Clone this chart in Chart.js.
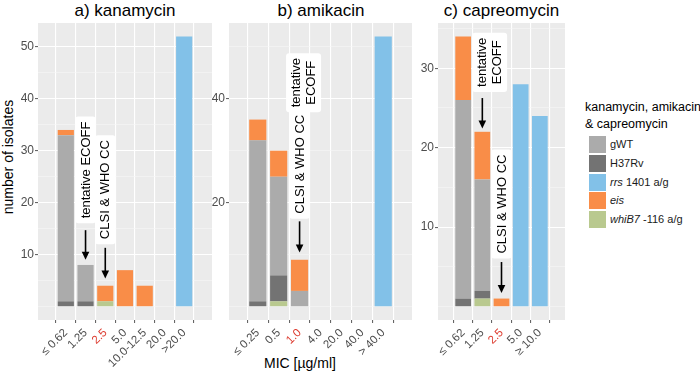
<!DOCTYPE html>
<html>
<head>
<meta charset="utf-8">
<script src="https://cdn.jsdelivr.net/npm/chart.js@4.4.1/dist/chart.umd.min.js"></script>
<style>
  body { margin: 0; width: 700px; height: 380px; background: #fff; position: relative; overflow: hidden;
         font-family: "Liberation Sans", Arial, sans-serif; color: #000; }
  canvas { position: absolute; top: 0; }
  .ptitle { position: absolute; top: 1px; font-size: 17px; line-height: 20px; text-align: center; white-space: nowrap; }
  #ytitle { position: absolute; left: 8px; top: 157px; font-size: 14px; white-space: nowrap;
            transform: translate(-50%, -50%) rotate(-90deg); }
  #xtitle { position: absolute; left: 300px; top: 363px; font-size: 14px; white-space: nowrap;
            transform: translate(-50%, -50%); }
  #legtitle { position: absolute; left: 585px; top: 99px; font-size: 12.5px; line-height: 17px; white-space: nowrap; }
  .li { position: absolute; left: 589px; height: 17px; font-size: 11px; line-height: 17px; white-space: nowrap; color: #1a1a1a; }
  .sw { display: inline-block; width: 17px; height: 17px; vertical-align: top; margin-right: 4px; }
</style>
</head>
<body>
<div class="ptitle" style="left:38px;width:174px">a) kanamycin</div>
<div class="ptitle" style="left:229px;width:184px">b) amikacin</div>
<div class="ptitle" style="left:438px;width:127px">c) capreomycin</div>
<div id="ytitle">number of isolates</div>
<div id="xtitle">MIC [µg/ml]</div>
<div id="legtitle">kanamycin, amikacin<br>&amp; capreomycin</div>
<div id="legend"></div>

<canvas id="chartA" width="220" height="380" style="left:0px"></canvas>
<canvas id="chartB" width="222" height="380" style="left:199px"></canvas>
<canvas id="chartC" width="160" height="380" style="left:410px"></canvas>

<script>
// series, stacked bottom to top
const seriesNames = ["whiB7 -116 a/g", "H37Rv", "gWT", "eis", "rrs 1401 a/g"];
const seriesLegend = ["<i>whiB7</i> -116 a/g", "H37Rv", "gWT", "<i>eis</i>", "<i>rrs</i> 1401 a/g"];
const seriesColors = ["#b9c98f", "#737373", "#ababab", "#f98d48", "#82c1e8"];
const legendOrder = [2, 1, 4, 3, 0];

// a) kanamycin
const kanaLabels = ["≤ 0.62", "1.25", "2.5", "5.0", "10.0-12.5", "20.0", ">20.0"];
const kanaWhiB7 = [0, 0, 1, 0, 0, 0, 0];
const kanaH37Rv = [1, 1, 0, 0, 0, 0, 0];
const kanaGWT   = [32, 7, 0, 0, 0, 0, 0];
const kanaEis   = [1, 0, 3, 7, 4, 0, 0];
const kanaRrs   = [0, 0, 0, 0, 0, 0, 52];
const kanaTicks = [10, 20, 30, 40, 50];

// b) amikacin
const amiLabels = ["≤ 0.25", "0.5", "1.0", "4.0", "20.0", "40.0", "> 40.0"];
const amiWhiB7 = [0, 1, 0, 0, 0, 0, 0];
const amiH37Rv = [1, 5, 0, 0, 0, 0, 0];
const amiGWT   = [31, 19, 3, 0, 0, 0, 0];
const amiEis   = [4, 5, 6, 0, 0, 0, 0];
const amiRrs   = [0, 0, 0, 0, 0, 0, 52];
const amiTicks = [20, 40];

// c) capreomycin
const capLabels = ["≤ 0.62", "1.25", "2.5", "5.0", "≥ 10.0"];
const capWhiB7 = [0, 1, 0, 0, 0];
const capH37Rv = [1, 1, 0, 0, 0];
const capGWT   = [25, 14, 0, 0, 0];
const capEis   = [8, 6, 1, 0, 0];
const capRrs   = [0, 0, 0, 28, 24];
const capTicks = [10, 20, 30];

const FONT = '"Liberation Sans", Arial, sans-serif';
const RED = "#dd3b2f";

// legend
const legend = document.getElementById("legend");
legendOrder.forEach((k, i) => {
  const d = document.createElement("div");
  d.className = "li";
  d.style.top = (136 + i * 18.8) + "px";
  d.innerHTML = `<span class="sw" style="background:${seriesColors[k]}"></span>${seriesLegend[k]}`;
  legend.appendChild(d);
});

// grey panel background
const panelBg = {
  id: "panelBg",
  beforeDraw(chart) {
    const a = chart.chartArea, ctx = chart.ctx;
    ctx.save();
    ctx.fillStyle = "#ebebeb";
    ctx.fillRect(a.left, a.top, a.right - a.left, a.bottom - a.top);
    ctx.restore();
  }
};

// white label boxes and arrows
const notes = {
  id: "notes",
  afterDatasetsDraw(chart, args, opts) {
    const ctx = chart.ctx, xs = chart.scales.x, ys = chart.scales.y;
    ctx.save();
    ctx.font = "13px " + FONT;
    (opts.items || []).forEach(n => {
      const cx = xs.getPixelForValue(n.x), cy = ys.getPixelForValue(n.y);
      const lh = 14.5;
      const w = Math.max(...n.lines.map(l => ctx.measureText(l).width));
      const bw = n.lines.length * lh + 6, bh = w + 10;
      ctx.fillStyle = "#fff";
      ctx.beginPath();
      ctx.roundRect(cx - bw / 2, cy - bh / 2, bw, bh, 3);
      ctx.fill();
      ctx.fillStyle = "#000";
      ctx.textAlign = "center";
      ctx.textBaseline = "middle";
      n.lines.forEach((l, k) => {
        ctx.save();
        ctx.translate(cx - (n.lines.length - 1) * lh / 2 + k * lh + 0.5, cy);
        ctx.rotate(-Math.PI / 2);
        ctx.fillText(l, 0, 0);
        ctx.restore();
      });
      if (n.arrow) {
        const ax = xs.getPixelForValue(n.ax);
        const y1 = ys.getPixelForValue(n.arrow[0]), y2 = ys.getPixelForValue(n.arrow[1]);
        ctx.strokeStyle = "#000";
        ctx.lineWidth = 1.6;
        ctx.beginPath();
        ctx.moveTo(ax, y1);
        ctx.lineTo(ax, y2 - 6);
        ctx.stroke();
        ctx.beginPath();
        ctx.moveTo(ax - 3.8, y2 - 8);
        ctx.lineTo(ax + 3.8, y2 - 8);
        ctx.lineTo(ax, y2);
        ctx.closePath();
        ctx.fill();
      }
    });
    ctx.restore();
  }
};

function makePanel(id, labels, series, cfg) {
  const datasets = series.map((vals, k) => ({
    label: seriesNames[k],
    data: vals.map((v, i) => ({ x: i, y: v })),
    backgroundColor: seriesColors[k],
    barPercentage: 0.82,
    categoryPercentage: 1
  }));
  const gridVals = [];
  for (let v = 0; v <= cfg.yMax; v += cfg.minorStep) gridVals.push(v);
  const isMajor = v => cfg.majors.includes(v);

  new Chart(document.getElementById(id), {
    type: "bar",
    data: { datasets },
    plugins: [panelBg, notes],
    options: {
      responsive: false,
      animation: false,
      layout: { padding: { top: 23, right: cfg.padRight, left: 0, bottom: 0 } },
      plugins: {
        legend: { display: false },
        tooltip: { enabled: false },
        notes: { items: cfg.notes }
      },
      scales: {
        x: {
          type: "linear",
          stacked: true,
          min: cfg.xMin,
          max: cfg.xMax,
          afterBuildTicks: s => { s.ticks = labels.map((l, i) => ({ value: i })); },
          afterFit: s => { s.height = 60; },
          border: { display: false },
          grid: { color: "#ffffff", lineWidth: 1.1, tickLength: 3, tickColor: "#666" },
          ticks: {
            autoSkip: false,
            minRotation: 45,
            maxRotation: 45,
            padding: 3,
            font: { family: FONT, size: 11.5 },
            color: c => (c.index === cfg.red ? RED : "#4d4d4d"),
            callback: v => labels[v]
          }
        },
        y: {
          stacked: true,
          min: cfg.yMin,
          max: cfg.yMax,
          afterBuildTicks: s => { s.ticks = gridVals.map(v => ({ value: v })); },
          afterFit: s => { s.width = cfg.yWidth; },
          border: { display: false },
          grid: {
            color: c => (isMajor(c.tick.value) ? "#ffffff" : "#f7f7f7"),
            lineWidth: c => (isMajor(c.tick.value) ? 1.1 : 0.6),
            tickLength: 3,
            tickColor: c => (isMajor(c.tick.value) ? "#666" : "rgba(0,0,0,0)")
          },
          ticks: {
            padding: 1,
            font: { family: FONT, size: 12 },
            color: "#4d4d4d",
            callback: v => (isMajor(v) ? String(v) : "")
          }
        }
      }
    }
  });
}

makePanel("chartA", kanaLabels, [kanaWhiB7, kanaH37Rv, kanaGWT, kanaEis, kanaRrs], {
  xMin: -0.78, xMax: 6.78, yMin: -2.6, yMax: 54.6, majors: kanaTicks, minorStep: 5,
  yWidth: 38, padRight: 8, red: 2,
  notes: [
    { lines: ["tentative ECOFF"], x: 1, y: 26.3, ax: 1, arrow: [14.7, 9.0] },
    { lines: ["CLSI & WHO CC"], x: 2, y: 22.5, ax: 2, arrow: [11.3, 5.4] }
  ]
});

makePanel("chartB", amiLabels, [amiWhiB7, amiH37Rv, amiGWT, amiEis, amiRrs], {
  xMin: -0.75, xMax: 6.75, yMin: -2.6, yMax: 54.6, majors: amiTicks, minorStep: 10,
  yWidth: 30, padRight: 9, red: 2,
  notes: [
    { lines: ["tentative", "ECOFF"], x: 2.19, y: 43.1 },
    { lines: ["CLSI & WHO CC"], x: 2, y: 27.4, ax: 2, arrow: [16.4, 10.4] }
  ]
});

makePanel("chartC", capLabels, [capWhiB7, capH37Rv, capGWT, capEis, capRrs], {
  xMin: -0.65, xMax: 4.65, yMin: -1.7, yMax: 35.7, majors: capTicks, minorStep: 5,
  yWidth: 28, padRight: 5, red: 2,
  notes: [
    { lines: ["tentative", "ECOFF"], x: 1.38, y: 30.75, ax: 1, arrow: [26.25, 22.4] },
    { lines: ["CLSI & WHO CC"], x: 2, y: 12.9, ax: 2, arrow: [5.6, 1.7] }
  ]
});
</script>
</body>
</html>
